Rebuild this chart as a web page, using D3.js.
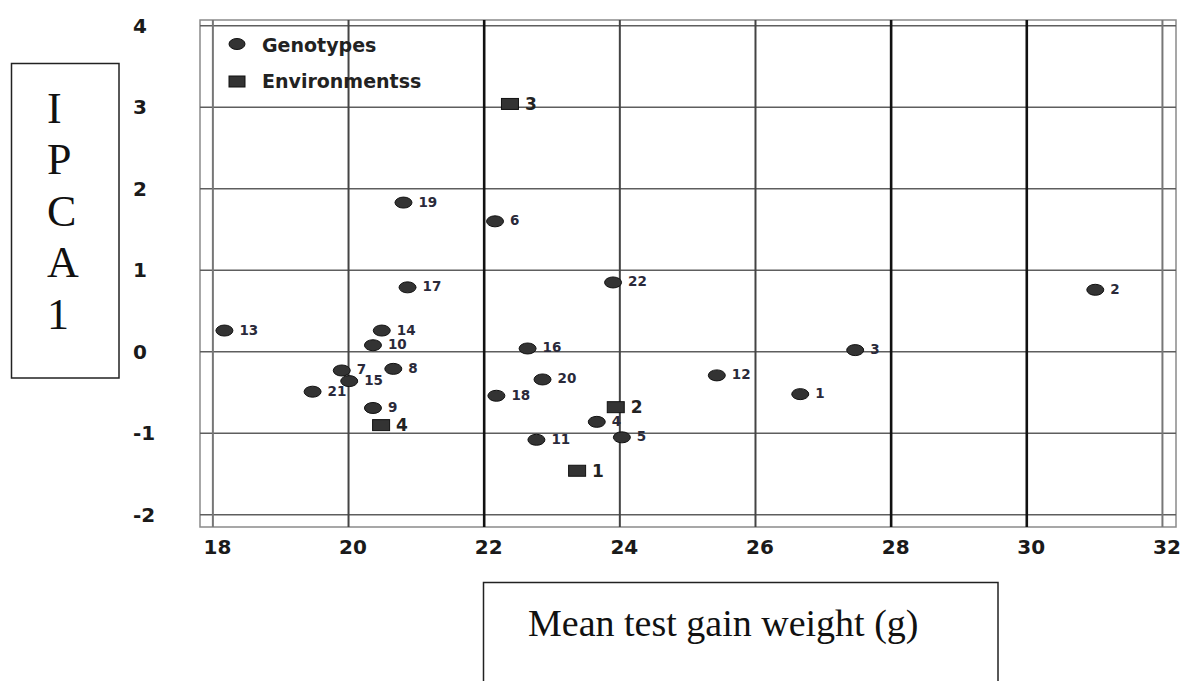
<!DOCTYPE html>
<html><head><meta charset="utf-8">
<script src="https://cdn.jsdelivr.net/npm/d3@7"></script>
<style>body{margin:0;background:#fff}svg{display:block}</style>
</head><body>
<svg id="chart" width="1187" height="681"></svg>
<script>
// ---- data ----
const genoIds = ["1","2","3","4","5","6","7","8","9","10","11","12","13","14","15","16","17","18","19","20","21","22"];
const genoX   = [26.66,31.01,27.47,23.66,24.03,22.16,19.90,20.66,20.36,20.36,22.77,25.43,18.17,20.49,20.01,22.64,20.87,22.18,20.81,22.86,19.47,23.90];
const genoY   = [-0.52,0.76,0.02,-0.86,-1.05,1.60,-0.23,-0.21,-0.69,0.08,-1.08,-0.29,0.26,0.26,-0.36,0.04,0.79,-0.54,1.83,-0.34,-0.49,0.85];
const envIds  = ["1","2","3","4"];
const envX    = [23.37,23.94,22.38,20.48];
const envY    = [-1.46,-0.68,3.04,-0.90];
const xTicks  = [18,20,22,24,26,28,30,32];
const yTicks  = [-2,-1,0,1,2,3,4];
const legendLabels = ["Genotypes","Environmentss"];
const yTitle = ["I","P","C","A","1"];
const xTitle = "Mean test gain weight (g)";

const SANS = "DejaVu Sans, Verdana, sans-serif";
const SERIF = "Liberation Serif, Times New Roman, serif";
const svg = d3.select("#chart");
const L=200,R=1176,T=20,B=527;
const x = d3.scaleLinear().domain([17.81,32.2]).range([L,R]);
const y = d3.scaleLinear().domain([-2.15,4.07]).range([B,T]);

// border
svg.append("rect").attr("x",L).attr("y",T).attr("width",R-L).attr("height",B-T)
  .attr("fill","none").attr("stroke","#8a8a8a").attr("stroke-width",1.5);

// horizontal grid
svg.append("g").selectAll("line").data(yTicks).join("line")
  .attr("x1",L).attr("x2",R).attr("y1",d=>y(d)).attr("y2",d=>y(d))
  .attr("stroke","#5e5e5e").attr("stroke-width",1.6);
// vertical grid
const dark = new Set([22,28,30]);
const light = new Set([18,32]);
svg.append("g").selectAll("line").data(xTicks).join("line")
  .attr("y1",T).attr("y2",B).attr("x1",d=>x(d)).attr("x2",d=>x(d))
  .attr("stroke",d=>dark.has(d)?"#111":(light.has(d)?"#777":"#444"))
  .attr("stroke-width",d=>dark.has(d)?2.6:2);

// axes
const xa = svg.append("g").attr("transform",`translate(4,${B+9})`)
  .call(d3.axisBottom(x).tickValues(xTicks).tickSize(0).tickPadding(0).tickFormat(d=>String(d)));
xa.select(".domain").remove();
xa.selectAll("text").attr("dy","0.9em").attr("font-family",SANS)
  .attr("font-weight","bold").attr("font-size",20).attr("fill","#1a1a1a");
const ya = svg.append("g");
ya.selectAll("text").data(yTicks).join("text")
  .attr("x",133).attr("y",d=>y(d)+7)
  .attr("font-family",SANS).attr("font-weight","bold").attr("font-size",20)
  .attr("fill","#1a1a1a").text(d=>String(d));

// genotype points
const geno = genoIds.map((id,i)=>({id,x:genoX[i],y:genoY[i]}));
const env = envIds.map((id,i)=>({id,x:envX[i],y:envY[i]}));
svg.append("g").selectAll("ellipse").data(geno).join("ellipse")
  .attr("cx",d=>x(d.x)).attr("cy",d=>y(d.y)).attr("rx",8.5).attr("ry",5.5)
  .attr("fill","#333").attr("stroke","#111").attr("stroke-width",1);
svg.append("g").selectAll("text").data(geno).join("text")
  .attr("x",d=>x(d.x)+15).attr("y",d=>y(d.y)+4)
  .attr("font-family",SANS).attr("font-weight","bold")
  .attr("font-size",13.5).attr("fill","#2a2a3a").text(d=>d.id);

// environment points
svg.append("g").selectAll("rect").data(env).join("rect")
  .attr("x",d=>x(d.x)-8.5).attr("y",d=>y(d.y)-5.5).attr("width",17).attr("height",11)
  .attr("fill","#333").attr("stroke","#111").attr("stroke-width",1);
svg.append("g").selectAll("text").data(env).join("text")
  .attr("x",d=>x(d.x)+15).attr("y",d=>y(d.y)+6)
  .attr("font-family",SANS).attr("font-weight","bold")
  .attr("font-size",17).attr("fill","#222").text(d=>d.id);

// legend
const lg = svg.append("g");
lg.append("ellipse").attr("cx",237).attr("cy",44).attr("rx",8).attr("ry",5.5).attr("fill","#333").attr("stroke","#111");
lg.append("rect").attr("x",229).attr("y",76).attr("width",16).attr("height",11).attr("fill","#333").attr("stroke","#111");
lg.selectAll("text").data(legendLabels).join("text")
  .attr("x",262).attr("y",(d,i)=>52+i*36)
  .attr("font-family",SANS).attr("font-weight","bold")
  .attr("font-size",19).attr("fill","#222").text(d=>d);

// y title box
svg.append("rect").attr("x",11.5).attr("y",63.5).attr("width",107.5).attr("height",314.5)
  .attr("fill","none").attr("stroke","#222").attr("stroke-width",1.5);
svg.append("g").selectAll("text").data(yTitle).join("text")
  .attr("x",47).attr("y",(d,i)=>123+i*51.4)
  .attr("font-family",SERIF).attr("font-size",44)
  .attr("fill","#111").text(d=>d);

// x title box
svg.append("rect").attr("x",483.5).attr("y",582.5).attr("width",514.5).attr("height",110)
  .attr("fill","none").attr("stroke","#222").attr("stroke-width",1.5);
svg.append("text").attr("x",528).attr("y",636)
  .attr("font-family",SERIF).attr("font-size",38)
  .attr("fill","#111").text(xTitle);
</script>
</body></html>
